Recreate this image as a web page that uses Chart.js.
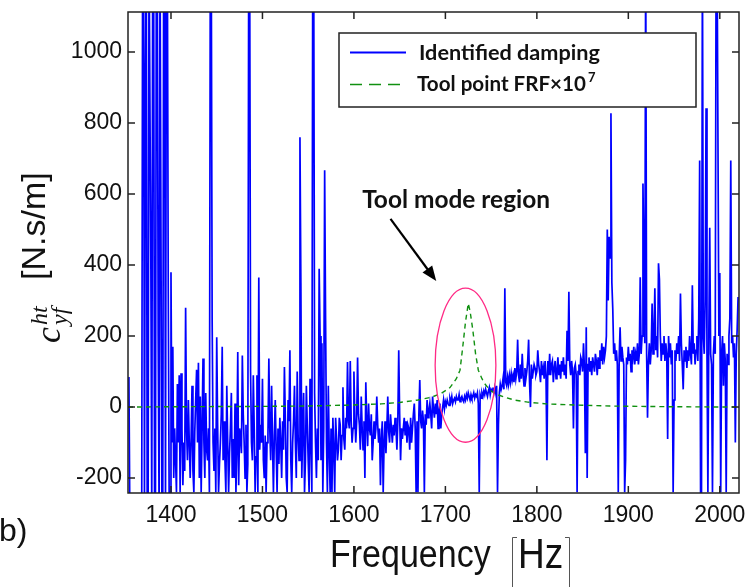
<!DOCTYPE html>
<html>
<head>
<meta charset="utf-8">
<script src="https://cdn.jsdelivr.net/npm/chart.js@4.4.1/dist/chart.umd.min.js"></script>
<style>
  html, body { margin: 0; padding: 0; background: #fff; }
  #wrap { width: 749px; height: 587px; }
</style>
</head>
<body>
<div id="wrap"><canvas id="chart" width="749" height="587"></canvas></div>
<script>
// identified damping [N.s/m], one reading per Hz starting at 1354 Hz, 20 per row
// (values above 1113 or below -242 run off the plot, like in the figure)
const dampStartHz = 1354;
const dampStepHz = 1;
const dampValues = [
    85, -300, -300, -300, -300, -300, -300, -300, -300, -300, -300, -300, -300, -300, -300, 1300, 1300, -300, 940, 1300,   // 1354
    -300, -300, 1300, 1300, 400, -300, 1300, 1300, -250, -300, 1300, 1300, 200, -300, 1300, 1300, -250, -300, 1300, 1300,   // 1374
    -300, 1300, 1300, 335, -250, -240, 380, -100, 170, -200, -60, -150, -240, 65, -100, 90, -240, 95, -60, -220,           // 1394
    -100, -180, 280, -60, -150, 20, -100, -200, -90, 60, -180, -240, -70, 20, 105, -100, 125, -200, 30, -240,              // 1414
    -60, 137, -100, -200, 40, -120, -150, -60, -240, 1300, 1300, 245, -100, -180, -60, -240, 197, -50, -240, -160,         // 1434
    -100, -20, 170, -150, -40, -150, -240, 60, -100, -240, -130, -60, 40, -200, -90, -200, 10, -240, -120, 155,            // 1454
    -220, -60, -80, -130, 145, -20, -100, -200, -50, -240, -160, 1300, 1300, 100, -100, -150, 90, -60, -240, -140,         // 1474
    90, -240, 365, -120, -50, -100, 80, -150, -200, -80, -240, -100, -80, 137, -60, -150, 60, -100, -240, -80,             // 1494
    20, -120, -240, -60, -160, -30, -100, -200, -40, -120, 113, -30, -200, -240, 20, -40, 160, -150, -240, -100,           // 1514
    -40, 60, -100, -200, 100, -80, -150, 760, 350, -200, -60, 40, -240, -150, 60, -50, -150, -240, 80, -100,               // 1534
    -240, 1300, 1300, 40, -100, -200, -60, -150, 390, 200, -150, 180, -240, -60, 667, 250, -100, -240, 60, -120,           // 1554
    -240, -60, -240, -30, -120, -240, -30, -90, -150, -120, -30, -50, -150, -80, 56, -90, -120, -30, -60, 127,             // 1574
    -40, -60, 130, -40, -100, -60, 100, -30, -100, -40, 140, -20, -50, -120, 30, -60, -120, -40, -200, 70,                 // 1594
    -40, -110, 10, -60, -80, -20, -150, -100, -40, -90, -60, 30, -50, -100, -60, -220, -90, -40, -240, -100,               // 1614
    -40, -130, -60, 30, -70, -100, -20, -60, -100, -50, -80, -30, -60, -120, -40, 160, -20, -150, -60, -90,                // 1634
    -60, -30, -80, -40, -100, -50, -60, -120, -30, -100, -60, -20, 10, -60, -240, -40, -240, -20, 76, -40,                 // 1654
    -60, -10, -40, -240, -20, -50, 20, -30, -10, 10, -20, -60, 30, -5, -30, 10, -20, 20, -60, -10,                         // 1674
    10, -60, -20, 0, 20, -5, 15, 5, 20, 10, 5, 25, 15, 30, 10, 20, 25, 15, 30, 20,                                         // 1694
    20, 35, 15, 25, 30, 20, 15, 30, 20, 35, 25, 40, 30, 20, 35, 25, 30, 40, 25, 35,                                        // 1714
    30, 40, 10, -240, 35, 25, 40, 30, 45, 35, 50, 40, 30, 45, 55, 35, 50, 45, 55, 40,                                      // 1734
    55, 40, 60, -240, -50, 40, 65, 50, 60, 80, 50, 335, 70, 60, 85, 65, 90, 70, 95, 75,                                    // 1754
    90, 70, 110, 80, 100, 190, 90, 70, 120, 80, 150, 90, 60, 110, 80, 100, 130, 190, 70, 0,                                // 1774
    120, 80, 100, 120, 110, 90, 100, 160, 120, 100, 70, 130, 90, 110, 80, 130, 90, -150, 130, 90,                          // 1794
    150, 90, 120, 130, 70, 110, 130, 80, 100, 140, 90, 120, 80, 130, 100, 140, 90, 120, 80, 215,                           // 1814
    130, 325, 120, 90, 130, 100, -60, 110, 120, 90, -240, 100, 120, 90, 140, 130, 100, 180, 110, -130,                     // 1834
    225, -200, 120, 140, 100, 130, 90, 140, 120, 100, 150, 130, 90, 140, 110, 160, 130, 180, 120, 170,                     // 1854
    140, 160, 200, 500, 300, 480, 420, 828, 350, 277, 150, 180, 130, 160, 120, -240, 140, 225, 130, 170,                   // 1874
    140, 120, -240, -150, 140, 120, 170, 130, 150, 100, 160, 140, 170, 120, 150, 130, 180, 120, 150, 366,                  // 1894
    150, 200, 630, 400, 180, 1300, 150, -30, 130, 180, 120, 160, 292, 150, 200, 335, 160, 200, 140, 405,                   // 1914
    360, 200, 130, 180, 150, 200, 130, 180, 150, -90, 200, 140, 180, 120, 160, -240, 20, 160, 130, 180,                    // 1934
    150, 200, 130, 320, 180, 120, 50, 160, 130, 170, 110, 160, 130, 200, 150, 120, 343, 150, 180, 120,                     // 1954
    160, 200, 130, 250, 695, -240, -240, 1300, 200, 150, 300, 842, 150, -240, 200, 505, 150, 120, -240, 150,               // 1974
    200, 150, 1300, 1300, 1300, 200, 378, -240, 150, 200, 60, 180, 130, -240, 150, 120, 200, 250, 695, 180,                // 1994
    200, 140, 180, -100, 150, 220, 310                                                                                      // 2014
];

// tool point FRF x 1e7
const frfFreq   = [1353, 1400, 1500, 1550, 1600, 1630, 1650, 1670, 1685, 1695, 1705, 1712, 1716, 1719, 1722, 1725, 1727, 1730, 1733, 1736, 1740, 1743, 1748, 1752, 1758, 1765, 1775, 1790, 1810, 1840, 1880, 1950, 2021];
const frfValues = [0,    1,    2,    3,    6,    9,    13,   20,   28,   38,   55,   80,   104,  170,  240,  292,  270,  217,  150,  104,  80,   66,   50,   42,   34,   28,   20,   14,   9,    6,    3,    1,    0];

const xTicks = [1400, 1500, 1600, 1700, 1800, 1900, 2000];
const yTicks = [-200, 0, 200, 400, 600, 800, 1000];
const xMin = 1353, xMax = 2021;
const yMin = -242, yMax = 1113;

// "tool mode region" marker (data units)
const regionCenter = [1722, 118];
const regionRadius = [33.2, 217];
const arrowFrom = [1640, 530];
const arrowTo = [1690, 355];
const regionLabelAt = [1609, 560];

const dampPoints = dampValues.map((v, i) => ({ x: dampStartHz + i * dampStepHz, y: v }));
const frfPoints = frfFreq.map((f, i) => ({ x: f, y: frfValues[i] }));

function fitFont(ctx, text, weight, family, targetW) {
    ctx.font = `${weight} 20px ${family}`;
    const size = 20 * targetW / ctx.measureText(text).width;
    ctx.font = `${weight} ${size}px ${family}`;
    return size;
}

const overlay = {
    id: 'overlay',
    afterDatasetsDraw(chart) {
        const { ctx, chartArea: a, scales: { x, y } } = chart;
        ctx.save();

        // box + inward ticks
        ctx.strokeStyle = '#222';
        ctx.lineWidth = 1.5;
        ctx.strokeRect(a.left, a.top, a.right - a.left, a.bottom - a.top);
        ctx.beginPath();
        xTicks.forEach(v => {
            const px = x.getPixelForValue(v);
            ctx.moveTo(px, a.bottom); ctx.lineTo(px, a.bottom - 7);
            ctx.moveTo(px, a.top); ctx.lineTo(px, a.top + 7);
        });
        yTicks.forEach(v => {
            const py = y.getPixelForValue(v);
            ctx.moveTo(a.left, py); ctx.lineTo(a.left + 7, py);
            ctx.moveTo(a.right, py); ctx.lineTo(a.right - 7, py);
        });
        ctx.stroke();

        // ellipse round the tool mode
        const cx = x.getPixelForValue(regionCenter[0]);
        const cy = y.getPixelForValue(regionCenter[1]);
        const rx = x.getPixelForValue(regionCenter[0] + regionRadius[0]) - cx;
        const ry = cy - y.getPixelForValue(regionCenter[1] + regionRadius[1]);
        ctx.strokeStyle = '#ff2a85';
        ctx.lineWidth = 1.3;
        ctx.beginPath();
        ctx.ellipse(cx, cy, rx, ry, 0, 0, Math.PI * 2);
        ctx.stroke();

        // arrow
        const ax0 = x.getPixelForValue(arrowFrom[0]), ay0 = y.getPixelForValue(arrowFrom[1]);
        const ax1 = x.getPixelForValue(arrowTo[0]), ay1 = y.getPixelForValue(arrowTo[1]);
        const ang = Math.atan2(ay1 - ay0, ax1 - ax0);
        ctx.strokeStyle = '#000';
        ctx.fillStyle = '#000';
        ctx.lineWidth = 2.2;
        ctx.beginPath();
        ctx.moveTo(ax0, ay0);
        ctx.lineTo(ax1 - 10 * Math.cos(ang), ay1 - 10 * Math.sin(ang));
        ctx.stroke();
        ctx.beginPath();
        ctx.moveTo(ax1, ay1);
        ctx.lineTo(ax1 - 15 * Math.cos(ang) + 6 * Math.sin(ang), ay1 - 15 * Math.sin(ang) - 6 * Math.cos(ang));
        ctx.lineTo(ax1 - 15 * Math.cos(ang) - 6 * Math.sin(ang), ay1 - 15 * Math.sin(ang) + 6 * Math.cos(ang));
        ctx.closePath();
        ctx.fill();

        ctx.fillStyle = '#111';
        ctx.textAlign = 'left';
        ctx.textBaseline = 'alphabetic';
        fitFont(ctx, 'Tool mode region', 'bold', 'Lato', 188);
        ctx.fillText('Tool mode region', x.getPixelForValue(regionLabelAt[0]), y.getPixelForValue(regionLabelAt[1]));

        // legend
        ctx.fillStyle = '#fff';
        ctx.fillRect(339, 33, 357, 74);
        ctx.strokeStyle = '#222';
        ctx.lineWidth = 1.5;
        ctx.strokeRect(339, 33, 357, 74);
        ctx.lineWidth = 1.8;
        ctx.strokeStyle = '#0000ff';
        ctx.beginPath(); ctx.moveTo(350, 52.5); ctx.lineTo(406, 52.5); ctx.stroke();
        ctx.strokeStyle = '#109010';
        ctx.lineWidth = 1.5;
        ctx.setLineDash([12, 7]);
        ctx.beginPath(); ctx.moveTo(350, 84.5); ctx.lineTo(406, 84.5); ctx.stroke();
        ctx.setLineDash([]);
        ctx.fillStyle = '#111';
        fitFont(ctx, 'Identified damping', 'bold', 'Lato', 181);
        ctx.fillText('Identified damping', 419, 60);
        fitFont(ctx, 'Tool point FRF\u00d710', 'bold', 'Lato', 169);
        ctx.fillText('Tool point FRF\u00d710', 417, 91);
        ctx.font = 'bold 13px Lato';
        ctx.fillText('7', 588, 82);

        // x title
        ctx.fillStyle = '#111';
        ctx.save();
        ctx.translate(330, 567);
        ctx.scale(1, 1.13);
        ctx.font = '34px "Liberation Sans", Arial, sans-serif';
        ctx.fillText('Frequency', 0, 0);
        ctx.restore();
        ctx.save();
        ctx.translate(518, 568);
        ctx.scale(1, 1.13);
        ctx.font = '37px "Liberation Sans", Arial, sans-serif';
        ctx.fillText('Hz', 0, 0);
        ctx.restore();
        ctx.strokeStyle = '#555';
        ctx.lineWidth = 1;
        ctx.beginPath();
        ctx.moveTo(517, 537.5); ctx.lineTo(512.5, 537.5); ctx.lineTo(512.5, 587);
        ctx.moveTo(565, 537.5); ctx.lineTo(569.5, 537.5); ctx.lineTo(569.5, 587);
        ctx.stroke();

        // panel tag
        ctx.font = '32px "Liberation Sans", Arial, sans-serif';
        ctx.fillText('b)', -1, 541);

        // y title: c^ht_yf [N.s/m], rotated
        ctx.save();
        ctx.rotate(-Math.PI / 2);
        // after rotation: fillText(t, -screenY, screenX)
        ctx.font = '34px "Liberation Sans", Arial, sans-serif';
        ctx.fillText('[N.s/m]', -280, 45);
        ctx.font = 'italic 36px "Liberation Serif", "DejaVu Serif", serif';
        ctx.fillText('c', -343, 60);
        ctx.font = 'italic 24px "Liberation Serif", "DejaVu Serif", serif';
        ctx.fillText('ht', -325, 47);
        ctx.fillText('yf', -325, 67);
        ctx.restore();

        ctx.restore();
    }
};

const tickFont = { family: '"Liberation Sans", Arial, sans-serif', size: 23 };

new Chart(document.getElementById('chart'), {
    type: 'line',
    data: {
        datasets: [
            {
                label: 'Tool point FRF\u00d710^7',
                data: frfPoints,
                borderColor: '#109010',
                borderWidth: 1.4,
                borderDash: [5, 4],
                pointRadius: 0,
                tension: 0,
                fill: false
            },
            {
                label: 'Identified damping',
                data: dampPoints,
                borderColor: '#0000ff',
                borderWidth: 1.7,
                pointRadius: 0,
                tension: 0,
                fill: false
            }
        ]
    },
    options: {
        responsive: false,
        animation: false,
        events: [],
        layout: { padding: { left: 0, right: 10, top: 12, bottom: 0 } },
        plugins: { legend: { display: false }, tooltip: { enabled: false } },
        scales: {
            x: {
                type: 'linear',
                min: xMin,
                max: xMax,
                grid: { display: false, drawTicks: false },
                border: { display: false },
                afterBuildTicks: axis => { axis.ticks = xTicks.map(v => ({ value: v })); },
                afterFit: axis => {
                    axis.height = 94;
                    axis.paddingLeft = 0;
                    axis.paddingRight = 0;
                },
                ticks: {
                    padding: 9,
                    maxRotation: 0,
                    color: '#111',
                    font: tickFont,
                    callback: v => String(v)
                }
            },
            y: {
                min: yMin,
                max: yMax,
                grid: { display: false, drawTicks: false },
                border: { display: false },
                afterBuildTicks: axis => { axis.ticks = yTicks.map(v => ({ value: v })); },
                afterFit: axis => {
                    axis.width = 128;
                    axis.paddingTop = 0;
                    axis.paddingBottom = 0;
                },
                ticks: {
                    padding: 6,
                    color: '#111',
                    font: tickFont,
                    callback: v => String(v)
                }
            }
        }
    },
    plugins: [overlay]
});
</script>
</body>
</html>
